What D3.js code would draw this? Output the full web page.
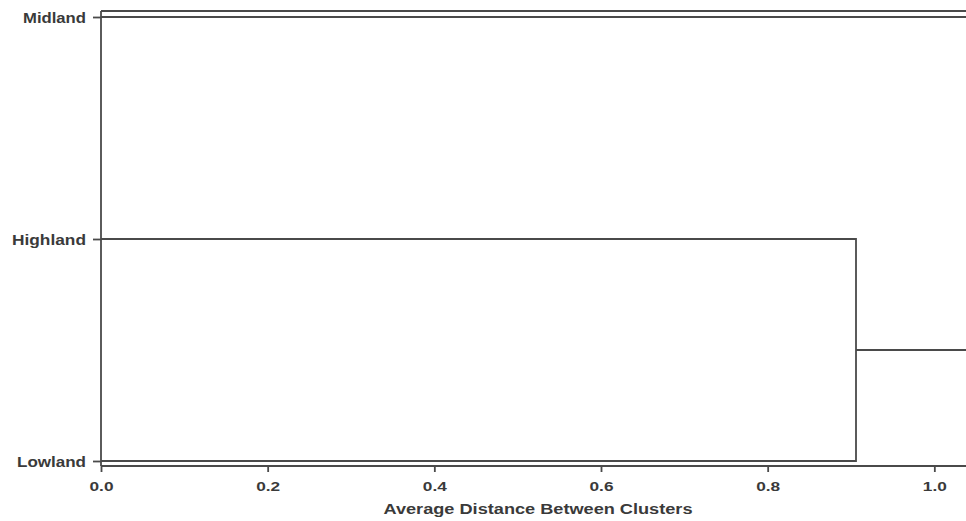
<!DOCTYPE html>
<html><head><meta charset="utf-8">
<script src="https://cdn.jsdelivr.net/npm/d3@7"></script>
<style>body{margin:0;background:#fff}svg{display:block}text{font-family:"Liberation Sans",Arial,sans-serif;fill:#333}</style>
</head><body>
<script>
// Data
const leaves = ["Midland", "Highland", "Lowland"];
const mergeNames = ["Highland+Lowland", "Root"];
const mergeHeights = [0.906, 1.12];   // root merge lies beyond the visible axis
const xTicks = [0.0, 0.2, 0.4, 0.6, 0.8, 1.0];
const xTitle = "Average Distance Between Clusters";

const W = 966, H = 521;
const svg = d3.select("body").append("svg").attr("width", W).attr("height", H);

const x = d3.scaleLinear().domain([0, 1.038]).range([101, 966]);
const y = d3.scalePoint().domain(leaves).range([17, 461]);

const tree = {
  name: mergeNames[1], height: mergeHeights[1], children: [
    {name: leaves[0], height: 0},
    {name: mergeNames[0], height: mergeHeights[0], children: [
      {name: leaves[1], height: 0},
      {name: leaves[2], height: 0}
    ]}
  ]
};
const root = d3.hierarchy(tree);
root.eachAfter(n => {
  n.py = n.children ? d3.mean(n.children, c => c.py) : y(n.data.name);
  n.px = x(n.data.height);
});

const clip = svg.append("clipPath").attr("id", "c").append("rect")
  .attr("x", 0).attr("y", 0).attr("width", 966).attr("height", H);

const g = svg.append("g").attr("clip-path", "url(#c)");
const stroke = "#4a4a4a", sw = 1.8;

// links: horizontal from child to parent height, then vertical
root.links().forEach(l => {
  g.append("path")
    .attr("d", `M${l.target.px},${l.target.py}H${l.source.px}V${l.source.py}`)
    .attr("fill", "none").attr("stroke", stroke).attr("stroke-width", sw);
});

// frame top
g.append("line").attr("x1", x(0)).attr("x2", W).attr("y1", 11).attr("y2", 11)
  .attr("stroke", stroke).attr("stroke-width", sw);

// x axis
const xAxis = svg.append("g").attr("transform", "translate(0,466)")
  .call(d3.axisBottom(x).tickValues(xTicks).tickFormat(d3.format(".1f")).tickSize(6).tickSizeOuter(0));
xAxis.select(".domain").attr("stroke", stroke).attr("stroke-width", sw);
xAxis.selectAll(".tick line").attr("stroke", stroke).attr("stroke-width", sw);
xAxis.selectAll(".tick text").attr("y", 0).attr("dy", null)
  .attr("transform", "translate(0,25)")
  .style("font-size", "13px").style("font-weight", "bold").style("fill", "#3a3a3a")
  .attr("textLength", 24).attr("lengthAdjust", "spacingAndGlyphs");
xAxis.attr("font-family", null);
// extend domain to right edge
xAxis.select(".domain").attr("d", `M${x(0)},0H${W}`);

// y axis
const yAxis = svg.append("g").attr("transform", `translate(${x(0)},0)`)
  .call(d3.axisLeft(y).tickSize(8).tickSizeOuter(0).tickPadding(7));
yAxis.select(".domain").attr("d", `M0,11V466`).attr("stroke", stroke).attr("stroke-width", sw);
yAxis.selectAll(".tick line").attr("stroke", stroke).attr("stroke-width", sw);
const labelW = {Midland: 63, Highland: 74, Lowland: 69};
yAxis.selectAll(".tick text").attr("dy", "0.36em")
  .style("font-size", "14px").style("font-weight", "bold").style("fill", "#3a3a3a")
  .attr("textLength", d => labelW[d]).attr("lengthAdjust", "spacingAndGlyphs");
yAxis.attr("font-family", null);

svg.append("text").attr("x", 538).attr("y", 514).attr("text-anchor", "middle")
  .style("font-size", "14px").style("font-weight", "600").style("fill", "#3a3a3a")
  .attr("textLength", 309).attr("lengthAdjust", "spacingAndGlyphs")
  .text(xTitle);
</script>
</body></html>
